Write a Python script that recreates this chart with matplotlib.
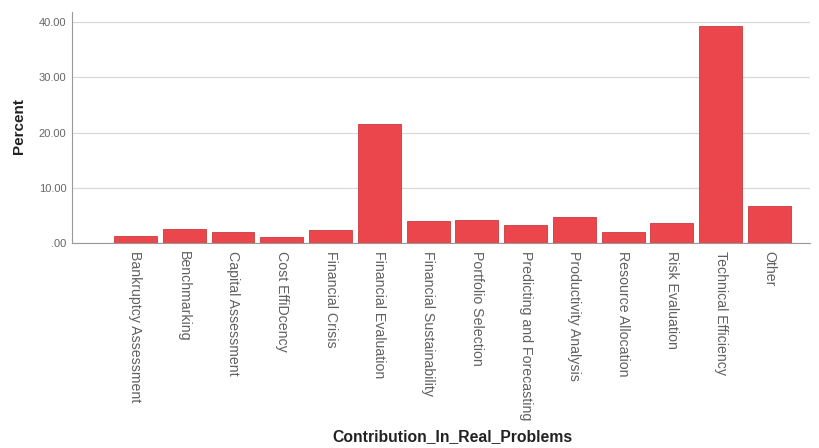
import matplotlib
matplotlib.use("Agg")
import matplotlib.pyplot as plt
import matplotlib.transforms as mtransforms
from matplotlib.ticker import FixedLocator

categories = ["Bankruptcy Assessment", "Benchmarking", "Capital Assessment",
              "Cost EffiDcency", "Financial Crisis", "Financial Evaluation",
              "Financial Sustainability", "Portfolio Selection",
              "Predicting and Forecasting", "Productivity Analysis",
              "Resource Allocation", "Risk Evaluation", "Technical Efficiency", "Other"]
percent = [1.3, 2.5, 2.0, 1.0, 2.3, 21.6, 3.9, 4.2, 3.3, 4.7, 2.0, 3.6, 39.4, 6.7]
y_ticks = [0, 10, 20, 30, 40]
y_tick_labels = [".00", "10.00", "20.00", "30.00", "40.00"]

plt.rcParams['font.family'] = ['Liberation Sans', 'DejaVu Sans']

fig = plt.figure(figsize=(8.19, 4.48), dpi=100)
ax = fig.add_axes([72/819, 1-243/448, (810-72)/819, (243-12)/448])

x = list(range(len(categories)))
ax.bar(x, percent, width=0.88, color='#ea464b', edgecolor='#c93a3e', linewidth=0.6, zorder=3)

ax.set_xlim(-1.3, 13.83)
ax.set_ylim(0, 40 * (243-12) / (243-22.3))
ax.yaxis.set_major_locator(FixedLocator(y_ticks))
ax.set_yticklabels(y_tick_labels, color='#666666', fontsize=8)
ax.grid(axis='y', color='#d9d9d9', linewidth=0.9, zorder=0)
ax.set_xticks(x)
labels = ax.set_xticklabels(categories, rotation=-90, color='#606060', fontsize=10.2, va='top', ha='center')
offset = mtransforms.ScaledTranslation(-3/100, 0, fig.dpi_scale_trans)
for lab in labels:
    lab.set_transform(lab.get_transform() + offset)
ax.tick_params(axis='x', length=0, pad=6)
ax.tick_params(axis='y', length=0, pad=4)

for s in ['top', 'right']:
    ax.spines[s].set_visible(False)
ax.spines['left'].set_color('#999999')
ax.spines['bottom'].set_color('#999999')

fig.text(19/819, 1-126/448, "Percent", fontsize=11, fontweight='bold', color='#222222',
         rotation=90, ha='center', va='center')
fig.text(452/819, 1-437/448, "Contribution_In_Real_Problems", fontsize=11.3, fontweight='bold',
         color='#222222', ha='center', va='center')

fig.savefig("out.png", dpi=100, facecolor='white')
